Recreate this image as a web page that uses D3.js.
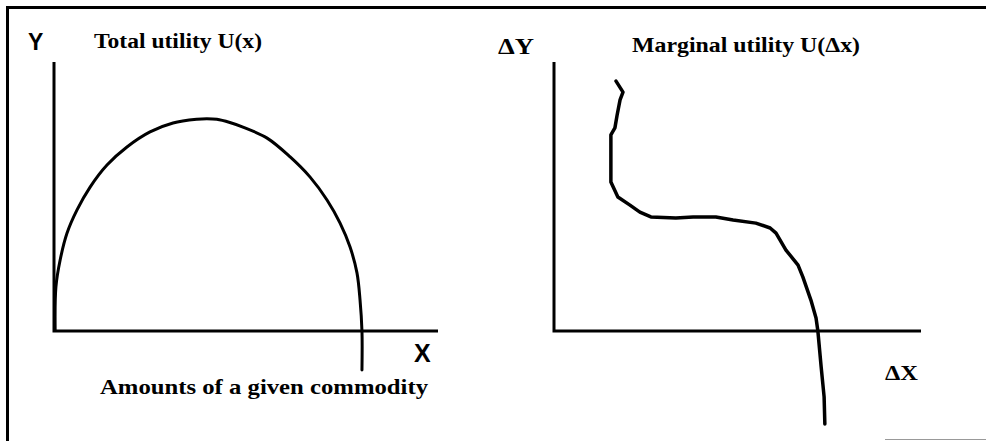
<!DOCTYPE html>
<html lang="en">
<head>
    <meta charset="UTF-8">
    <title>Total and marginal utility</title>
    <script src="https://d3js.org/d3.v7.min.js"></script>
    <style>
        body, html {
            margin: 0;
            padding: 0;
            background: #fff;
            overflow: hidden;
        }
        .serif { font-family: "Liberation Serif", "DejaVu Serif", serif; font-weight: bold; fill: #000; }
        .sans { font-family: "Liberation Sans", Arial, sans-serif; font-weight: bold; fill: #000; }
    </style>
</head>
<body>
    <div id="chart"></div>
    <script>
        // Total utility curve (x, y in percent of the axis lengths)
        var totalX = [0.3, 0.5, 1.6, 3.4, 6.0, 9.4, 13.8, 19.0, 25.0, 31.0, 37.2, 39.8, 42.4, 45.8, 49.2, 55.5, 61.5, 66.7, 71.1, 74.5, 77.1, 78.9, 79.7, 80.2, 80.2];
        var totalY = [0.4, 16.4, 26.4, 36.4, 45.0, 53.5, 61.7, 68.4, 74.0, 77.3, 78.7, 78.9, 78.7, 77.5, 75.8, 71.7, 64.7, 57.2, 48.7, 40.1, 31.2, 21.6, 11.5, 0, -14.5];

        // Marginal utility curve (hand drawn)
        var marginalX = [16.9, 18.8, 18.0, 17.2, 16.6, 15.5, 15.5, 17.4, 20.7, 23.4, 26.4, 33.2, 37.9, 44.1, 48.8, 55.0, 58.9, 60.5, 63.2, 66.5, 67.8, 70.0, 71.4, 71.9, 72.8, 73.6, 73.8];
        var marginalY = [92.9, 88.8, 85.9, 80.3, 75.5, 72.9, 55.4, 49.8, 46.8, 44.2, 42.4, 42.0, 42.4, 42.4, 41.3, 40.1, 38.3, 36.4, 30.1, 24.5, 20.1, 11.5, 4.8, 0, -13.4, -24.5, -34.6];

        var leftTitle = "Total utility U(x)";
        var rightTitle = "Marginal utility U(\u0394x)";
        var leftXLabel = "Amounts of a given commodity";

        var W = 986, H = 441;

        var svg = d3.select("#chart").append("svg")
            .attr("width", W)
            .attr("height", H);

        // frame (top and left edges only, the rest is cut off)
        svg.append("path")
            .attr("d", "M7.5," + H + "V7.5H" + W)
            .attr("fill", "none")
            .attr("stroke", "#000")
            .attr("stroke-width", 3);
        svg.append("line")
            .attr("x1", 885).attr("x2", W).attr("y1", 439.5).attr("y2", 439.5)
            .attr("stroke", "#999").attr("stroke-width", 1);

        function panel(xRange, yRange, xs, ys, curve, width) {
            var x = d3.scaleLinear().domain([0, 100]).range(xRange);
            var y = d3.scaleLinear().domain([0, 100]).range(yRange);
            var g = svg.append("g");

            g.append("path")
                .attr("d", "M" + x(0) + "," + y(100) + "V" + y(0) + "H" + x(100))
                .attr("fill", "none")
                .attr("stroke", "#000")
                .attr("stroke-width", 3);

            var pts = xs.map((d, i) => [d, ys[i]]);
            g.append("path")
                .datum(pts)
                .attr("d", d3.line().x(d => x(d[0])).y(d => y(d[1])).curve(curve))
                .attr("fill", "none")
                .attr("stroke", "#000")
                .attr("stroke-width", width)
                .attr("stroke-linejoin", "round")
                .attr("stroke-linecap", "round");
            return g;
        }

        // left panel
        var gl = panel([54, 438], [331, 62], totalX, totalY, d3.curveCatmullRom, 3);
        gl.append("text").attr("class", "sans").attr("x", 28).attr("y", 50)
            .attr("font-size", 23).text("Y");
        gl.append("text").attr("class", "serif").attr("x", 94).attr("y", 48)
            .attr("font-size", 20).attr("textLength", 168).attr("lengthAdjust", "spacingAndGlyphs")
            .text(leftTitle);
        gl.append("text").attr("class", "sans").attr("x", 414).attr("y", 362)
            .attr("font-size", 25).text("X");
        gl.append("text").attr("class", "serif").attr("x", 100).attr("y", 394)
            .attr("font-size", 21).attr("textLength", 328).attr("lengthAdjust", "spacingAndGlyphs")
            .text(leftXLabel);

        // right panel
        var gr = panel([554, 921], [331, 62], marginalX, marginalY, d3.curveLinear, 3.5);
        gr.append("text").attr("class", "serif").attr("x", 498).attr("y", 54)
            .attr("font-size", 23).attr("textLength", 36).attr("lengthAdjust", "spacingAndGlyphs")
            .text("\u0394Y");
        gr.append("text").attr("class", "serif").attr("x", 632).attr("y", 52)
            .attr("font-size", 20).attr("textLength", 228).attr("lengthAdjust", "spacingAndGlyphs")
            .text(rightTitle);
        gr.append("text").attr("class", "serif").attr("x", 885).attr("y", 380)
            .attr("font-size", 22).attr("textLength", 33).attr("lengthAdjust", "spacingAndGlyphs")
            .text("\u0394X");
    </script>
</body>
</html>
